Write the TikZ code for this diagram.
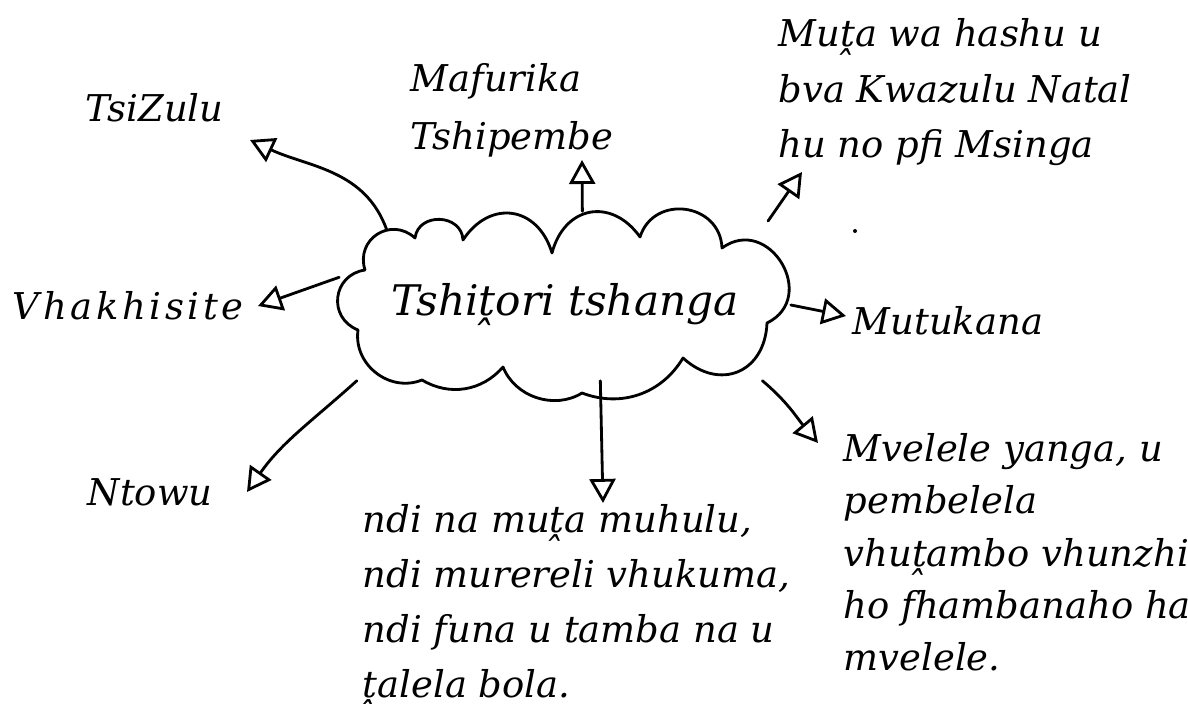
\documentclass[tikz,border=0pt]{standalone}
\usepackage{fontspec}
\setmainfont{DejaVu Serif}
\usetikzlibrary{arrows.meta}

\tikzset{
  note/.style={
    font=\itshape\fontsize{10.5}{#1}\selectfont,
    align=left,
    inner sep=0pt,
    anchor=base west
  },
  note/.default=15.5,
  branch/.style={
    thick,
    -{Triangle[open, length=2.4mm, width=2.6mm]}
  }
}

\begin{document}
\begin{tikzpicture}[
  x=0.01cm,
  y=0.01cm,
  line cap=round,
  line join=round
]
  \useasboundingbox (0,0) rectangle (1188,-704);

  % Cloud outline, bump by bump
  \draw[thick, looseness=1.4]
    (365,-270) to[bend left=75] (415,-238)
    to[bend left=85] (463,-240)
    to[bend left=65] (552,-253)
    to[bend left=65] (640,-237)
    to[bend left=80] (722,-248)
    to[bend left=95, looseness=1.7] (767,-323)
    to[bend left=65] (683,-358)
    to[bend left=40, looseness=1] (582,-393)
    to[bend left=50, looseness=1] (503,-367)
    to[bend left=40, looseness=1] (422,-380)
    to[bend left=60, looseness=1.1] (358,-330)
    to[bend left=75] (365,-270);

  % Central title
  \node[
    minimum width=4.5cm,
    minimum height=1.5cm,
    font=\itshape\fontsize{12}{14}\selectfont
  ] (story) at (565,-305) {Tshiṱori tshanga};

  % Labels round the cloud
  \node[note] (zulu) at (85,-122) {TsiZulu};
  \node[note=16.5] (afrika) at (410,-150) {Mafurika\\Tshipembe};
  \node[note=15.9] (family) at (778,-158)
    {Muṱa wa hashu u\\bva Kwazulu Natal\\hu no pfi Msinga};
  \node[note, font=\itshape\fontsize{10.5}{15.5}\selectfont\addfontfeature{LetterSpace=10}]
    (christ) at (12,-320) {Vhakhisite};
  \node[note] (boy) at (852,-335) {Mutukana};
  \node[note] (ntowu) at (87,-506) {Ntowu};
  \node[note=15.6] (me) at (362,-697)
    {ndi na muṱa muhulu,\\ndi murereli vhukuma,\\ndi funa u tamba na u\\ṱalela bola.};
  \node[note=14.9] (culture) at (843,-671)
    {Mvelele yanga, u\\pembelela\\vhuṱambo vhunzhi\\ho fhambanaho ha\\mvelele.};

  % Arrow ends
  \coordinate (zuluTip) at (250,-140);
  \coordinate (afrikaTip) at (582,-160);
  \coordinate (familyTip) at (802,-172);
  \coordinate (christTip) at (258,-306);
  \coordinate (boyTip) at (846,-316);
  \coordinate (ntowuTip) at (247,-492);
  \coordinate (meTip) at (603,-503);
  \coordinate (cultureTip) at (818,-443);

  % Branches
  \draw[branch] (story.157.6) to[out=110, in=-25] (zuluTip);
  \draw[branch, shorten <=0.18cm] (story.77.2) -- (afrikaTip);
  \draw[branch, shorten <=0.1cm] (story.21.2) -- (familyTip);
  \draw[branch] (story.173.9) -- (christTip);
  \draw[branch] (story.0) -- (boyTip);
  \draw[branch] (story.200.6) to[out=222, in=55] (ntowuTip);
  \draw[branch] (story.295) -- (meTip);
  \draw[branch] (story.339.7) to[out=-40, in=130] (cultureTip);

  \fill (855,-231) circle (2);
\end{tikzpicture}
\end{document}
